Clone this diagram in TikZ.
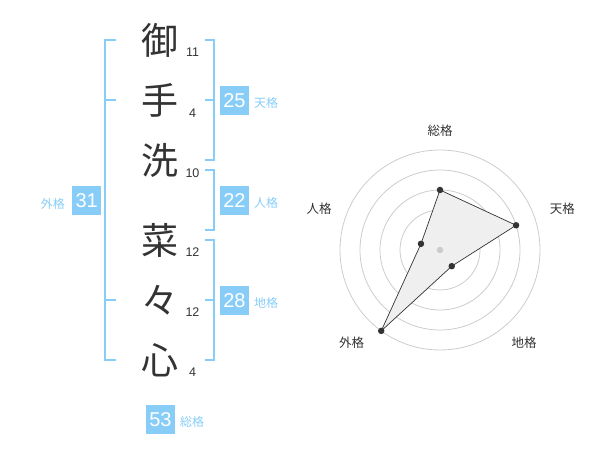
\documentclass[tikz,border=0pt]{standalone}
\usepackage{fontspec}
\setmainfont{Liberation Sans}
\newfontfamily\cjk{Noto Sans CJK JP}
\definecolor{sky}{HTML}{88CDF8}
\definecolor{ink}{HTML}{333333}
\definecolor{ring}{HTML}{CCCCCC}
\definecolor{area}{HTML}{EFEFEF}
\begin{document}
\begin{tikzpicture}[x=1pt,y=-1pt,
  kanji/.style={font=\cjk\fontsize{37}{37}\selectfont, text=ink, inner sep=0pt},
  strokes/.style={font=\fontsize{12.5}{12.5}\selectfont, text=ink, inner sep=0pt},
  valbox/.style={fill=sky, text=white, minimum width=29pt, minimum height=29pt, inner sep=0pt, font=\fontsize{20}{20}\selectfont},
  kaku/.style={font=\cjk\fontsize{12}{12}\selectfont, text=sky, inner sep=0pt, anchor=west},
  axislabel/.style={font=\cjk\fontsize{12.5}{12.5}\selectfont, text=ink, inner sep=0pt},
  bracket/.style={draw=sky, line width=2pt},
  ringline/.style={draw=ring, line width=0.8pt},
  dot/.style={circle, fill=ink, inner sep=0pt, minimum size=6.5pt}]
\useasboundingbox (0,0) rectangle (600,470);

% name characters
\node[kanji] (k1) at (160,40) {御};
\node[kanji] (k2) at (160,100) {手};
\node[kanji] (k3) at (160,160) {洗};
\node[kanji] (k4) at (160,240) {菜};
\node[kanji] (k5) at (160,300) {々};
\node[kanji] (k6) at (160,360) {心};

% stroke counts
\node[strokes] (n1) at (192.5,52.7) {11};
\node[strokes] (n2) at (192.7,113.3) {4};
\node[strokes] (n3) at (192.5,172.7) {10};
\node[strokes] (n4) at (192.5,252.3) {12};
\node[strokes] (n5) at (192.5,312.3) {12};
\node[strokes] (n6) at (192.7,372.7) {4};

% brackets
\draw[bracket] (116,40) -- (105,40) -- (105,360) -- (116,360);
\draw[bracket] (105,100) -- (116,100);
\draw[bracket] (105,300) -- (116,300);
\draw[bracket] (205,40) -- (214,40) -- (214,160) -- (205,160);
\draw[bracket] (205,100) -- (214,100);
\draw[bracket] (205,170) -- (214,170) -- (214,230) -- (205,230);
\draw[bracket] (205,240) -- (214,240) -- (214,360) -- (205,360);
\draw[bracket] (205,300) -- (214,300);

% value boxes
\node[valbox] (b25) at (234.5,100.3) {25};
\node[kaku] (l25) at (254,103) {天格};
\node[valbox] (b22) at (234.5,200.3) {22};
\node[kaku] (l22) at (254,203) {人格};
\node[valbox] (b28) at (234.5,300.3) {28};
\node[kaku] (l28) at (254,303) {地格};
\node[valbox] (b31) at (86.7,200.3) {31};
\node[kaku] (l31) at (40.7,203.5) {外格};
\node[valbox] (b53) at (160.5,419.2) {53};
\node[kaku] (l53) at (180,422.3) {総格};

% radar chart
\begin{scope}[shift={(440,250)}, yscale=-1]
  \foreach \r in {20,40,60,80,100} \draw[ringline] (0,0) circle (\r);
  \coordinate (ps) at (90:60);
  \coordinate (pt) at (18:80);
  \coordinate (pc) at (-54:20);
  \coordinate (pg) at (-126:100);
  \coordinate (pj) at (162:20);
  \draw[fill=area, draw=ink, line width=0.7pt] (ps) -- (pt) -- (pc) -- (pg) -- (pj) -- cycle;
  \fill[ring] (0,0) circle (3.2);
  \foreach \p in {ps,pt,pc,pg,pj} \node[dot] at (\p) {};
\end{scope}
\node[axislabel] (as) at (440,130.7) {総格};
\node[axislabel] (at) at (562.3,208.7) {天格};
\node[axislabel] (aj) at (319,208.7) {人格};
\node[axislabel] (ag) at (351.7,342.3) {外格};
\node[axislabel] (ac) at (524,342.3) {地格};
\end{tikzpicture}
\end{document}
